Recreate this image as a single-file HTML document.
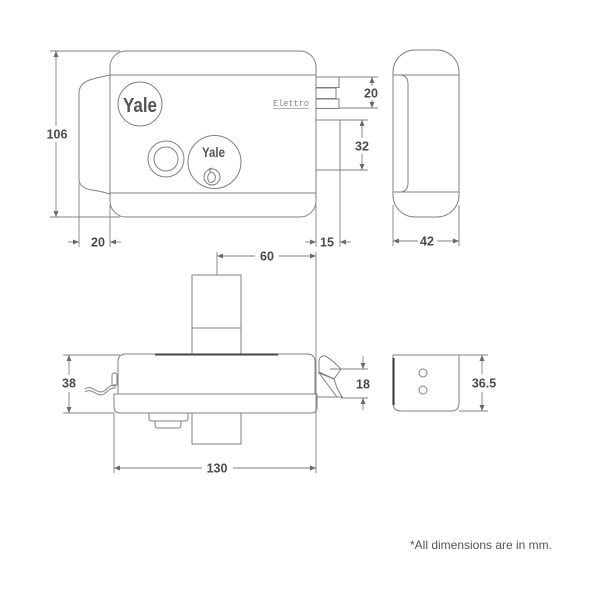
<!DOCTYPE html>
<html><head><meta charset="utf-8"><style>
html,body{margin:0;padding:0;background:#fff;}
svg{display:block;}
.l{fill:none;stroke:#808080;stroke-width:1;}
.d{fill:none;stroke:#808080;stroke-width:0.9;}
.t{font-family:"Liberation Sans",sans-serif;font-weight:bold;font-size:12.5px;fill:#4a4a4a;text-anchor:middle;}
</style></head><body>
<svg width="600" height="600" viewBox="0 0 600 600" xmlns="http://www.w3.org/2000/svg">
<defs>
<marker id="a" viewBox="0 0 6 6" refX="6" refY="3" markerWidth="6" markerHeight="6" markerUnits="userSpaceOnUse" orient="auto"><path d="M0,0.5 L6,3 L0,5.5 z" fill="#6a6a6a"/></marker>
</defs>

<!-- ===== TOP FRONT VIEW ===== -->
<rect class="l" x="110" y="51" width="206" height="166" rx="16" ry="16"/>
<line class="l" x1="110" y1="75" x2="316" y2="75"/>
<line class="l" x1="110" y1="193" x2="316" y2="193"/>
<path class="l" d="M110,75 Q100,77 93,79 Q80,82 79,92 L79,180 Q80,188 92,190 Q100,191 110,194"/>
<!-- yale logo -->
<circle class="l" cx="140" cy="104" r="22"/>
<text x="123" y="112" font-family="Liberation Sans,sans-serif" font-weight="bold" font-size="20" fill="#555" textLength="34" lengthAdjust="spacingAndGlyphs">Yale</text>
<!-- button -->
<circle class="l" cx="166" cy="159" r="18"/>
<circle class="l" cx="166" cy="159" r="12"/>
<!-- key cylinder -->
<circle class="l" cx="214.5" cy="162" r="26.5"/>
<text x="202" y="157" font-family="Liberation Sans,sans-serif" font-weight="bold" font-size="14" fill="#555" textLength="23" lengthAdjust="spacingAndGlyphs">Yale</text>
<circle class="l" cx="212" cy="177" r="8"/>
<path class="l" d="M209,182 Q206,176 210,173 Q212,171 214,174 Q217,177 214,181 Q212,183 209,182 M211,173 L209,169 L212,168" stroke-width="0.8"/>
<!-- Elettro -->
<text x="273" y="106" font-family="Liberation Mono,monospace" font-size="9.5" fill="#888" textLength="36" lengthAdjust="spacingAndGlyphs">Elettro</text>
<line x1="273" y1="108.5" x2="309" y2="108.5" stroke="#999" stroke-width="0.7"/>
<!-- latch pieces -->
<rect class="l" x="316" y="77" width="23" height="10.5"/>
<rect class="l" x="316" y="88" width="20" height="10.5"/>
<rect class="l" x="316" y="99" width="23" height="9.5"/>
<rect class="l" x="316" y="120" width="24" height="50"/>

<!-- ext lines top -->
<line class="d" x1="50" y1="51" x2="120" y2="51"/>
<line class="d" x1="50" y1="217" x2="120" y2="217"/>
<line class="d" x1="79" y1="183" x2="79" y2="247"/>
<line class="d" x1="110" y1="205" x2="110" y2="247"/>
<line class="d" x1="339" y1="77" x2="378" y2="77"/>
<line class="d" x1="339" y1="108" x2="378" y2="108"/>
<line class="d" x1="340" y1="120" x2="368" y2="120"/>
<line class="d" x1="340" y1="170" x2="368" y2="170"/>
<line class="d" x1="316" y1="205" x2="316" y2="247"/>
<line class="d" x1="340" y1="170" x2="340" y2="247"/>

<!-- dims top -->
<line class="d" x1="56" y1="126" x2="56" y2="51" marker-end="url(#a)"/>
<line class="d" x1="56" y1="142" x2="56" y2="217" marker-end="url(#a)"/>
<text class="t" x="57" y="138.5">106</text>
<line class="d" x1="68" y1="242" x2="79" y2="242" marker-end="url(#a)"/>
<line class="d" x1="121" y1="242" x2="110" y2="242" marker-end="url(#a)"/>
<text class="t" x="98" y="246.5">20</text>
<line class="d" x1="372" y1="86" x2="372" y2="77" marker-end="url(#a)"/>
<line class="d" x1="372" y1="100" x2="372" y2="108" marker-end="url(#a)"/>
<text class="t" x="371" y="97.5">20</text>
<line class="d" x1="362" y1="138" x2="362" y2="120" marker-end="url(#a)"/>
<line class="d" x1="362" y1="154" x2="362" y2="170" marker-end="url(#a)"/>
<text class="t" x="362" y="150.5">32</text>
<line class="d" x1="305" y1="242" x2="316" y2="242" marker-end="url(#a)"/>
<line class="d" x1="351" y1="242" x2="340" y2="242" marker-end="url(#a)"/>
<text class="t" x="327" y="246.5">15</text>

<!-- ===== SIDE VIEW ===== -->
<rect class="l" x="393" y="50" width="66" height="167" rx="22" ry="22"/>
<line class="l" x1="393" y1="75" x2="459" y2="75"/>
<line class="l" x1="393" y1="192" x2="459" y2="192"/>
<path class="l" d="M393,75 L401,75 Q408,76 408,84 L408,183 Q408,191 401,192 L393,192"/>
<line class="d" x1="393" y1="205" x2="393" y2="246"/>
<line class="d" x1="459" y1="205" x2="459" y2="246"/>
<line class="d" x1="418" y1="241" x2="393" y2="241" marker-end="url(#a)"/>
<line class="d" x1="437" y1="241" x2="459" y2="241" marker-end="url(#a)"/>
<text class="t" x="427" y="245.5">42</text>

<!-- ===== BOTTOM (TOP-DOWN) VIEW ===== -->
<rect class="l" x="192" y="275" width="49" height="80"/>
<line class="l" x1="192" y1="328" x2="241" y2="328"/>
<rect class="l" x="192" y="413" width="49" height="31"/>
<path class="l" d="M118,394 L118,362 Q118,354 126,354 L307,354 Q315,354 315,362 L315,394"/>
<line x1="155" y1="354.5" x2="278" y2="354.5" stroke="#444" stroke-width="2"/>
<path class="l" d="M114,394 L317,394 L317,407 Q317,413 311,413 L120,413 Q114,413 114,407 Z" fill="#fff"/>
<rect class="l" x="112" y="373" width="5" height="13" rx="2"/>
<path class="l" d="M85,389 C92,384 97,395 104,391 C108,388 111,384 116,385"/>
<path class="l" d="M85,392 C92,387 97,398 104,394 C108,391 111,387 116,388"/>
<path class="l" d="M149,413 L149,418 Q149,421 152,421 L185,421 Q188,421 188,418 L188,413"/>
<path class="l" d="M155,421 L155,425 Q155,428 158,428 L178,428 Q181,428 181,425 L181,421"/>
<!-- latch -->
<path class="l" d="M319,372 L319,361 Q320,355 325,356 Q330,358 341,369 L334,379 Z"/>
<path class="l" d="M319,373 L334,379 L337,388 L342,397 L337,397 Z"/>
<line class="l" x1="317" y1="397" x2="343" y2="397"/>

<!-- ext lines bottom -->
<line class="d" x1="217" y1="252" x2="217" y2="275"/>
<line class="d" x1="316" y1="252" x2="316" y2="473"/>
<line class="d" x1="114" y1="413" x2="114" y2="473"/>
<line class="d" x1="63" y1="355" x2="120" y2="355"/>
<line class="d" x1="63" y1="413" x2="114" y2="413"/>
<line class="d" x1="330" y1="369" x2="368" y2="369"/>
<line class="d" x1="341" y1="398" x2="368" y2="398"/>

<!-- dims bottom -->
<line class="d" x1="255" y1="256" x2="217" y2="256" marker-end="url(#a)"/>
<line class="d" x1="279" y1="256" x2="316" y2="256" marker-end="url(#a)"/>
<text class="t" x="267" y="260.5">60</text>
<line class="d" x1="69" y1="375" x2="69" y2="355" marker-end="url(#a)"/>
<line class="d" x1="69" y1="392" x2="69" y2="413" marker-end="url(#a)"/>
<text class="t" x="69" y="387.5">38</text>
<line class="d" x1="202" y1="468" x2="114" y2="468" marker-end="url(#a)"/>
<line class="d" x1="233" y1="468" x2="316" y2="468" marker-end="url(#a)"/>
<text class="t" x="217" y="472.5">130</text>
<line class="d" x1="363" y1="356" x2="363" y2="369" marker-end="url(#a)"/>
<line class="d" x1="363" y1="410" x2="363" y2="398" marker-end="url(#a)"/>
<text class="t" x="363" y="388.5">18</text>

<!-- small side bottom view -->
<path class="l" d="M393,355 L459,355 L459,403 Q459,411 451,411 L401,411 Q393,411 393,403 Z"/>
<line x1="393.5" y1="358" x2="393.5" y2="405" stroke="#333" stroke-width="2"/>
<circle class="l" cx="423" cy="373" r="4"/>
<circle class="l" cx="423" cy="390" r="4"/>
<line class="d" x1="459" y1="355" x2="488" y2="355"/>
<line class="d" x1="459" y1="411" x2="488" y2="411"/>
<line class="d" x1="482" y1="374" x2="482" y2="355" marker-end="url(#a)"/>
<line class="d" x1="482" y1="392" x2="482" y2="411" marker-end="url(#a)"/>
<text class="t" x="484" y="387.5">36.5</text>

<!-- footer -->
<text x="410" y="549" font-family="Liberation Sans,sans-serif" font-size="12" fill="#555" textLength="142" lengthAdjust="spacing">*All dimensions are in mm.</text>
</svg>
</body></html>
